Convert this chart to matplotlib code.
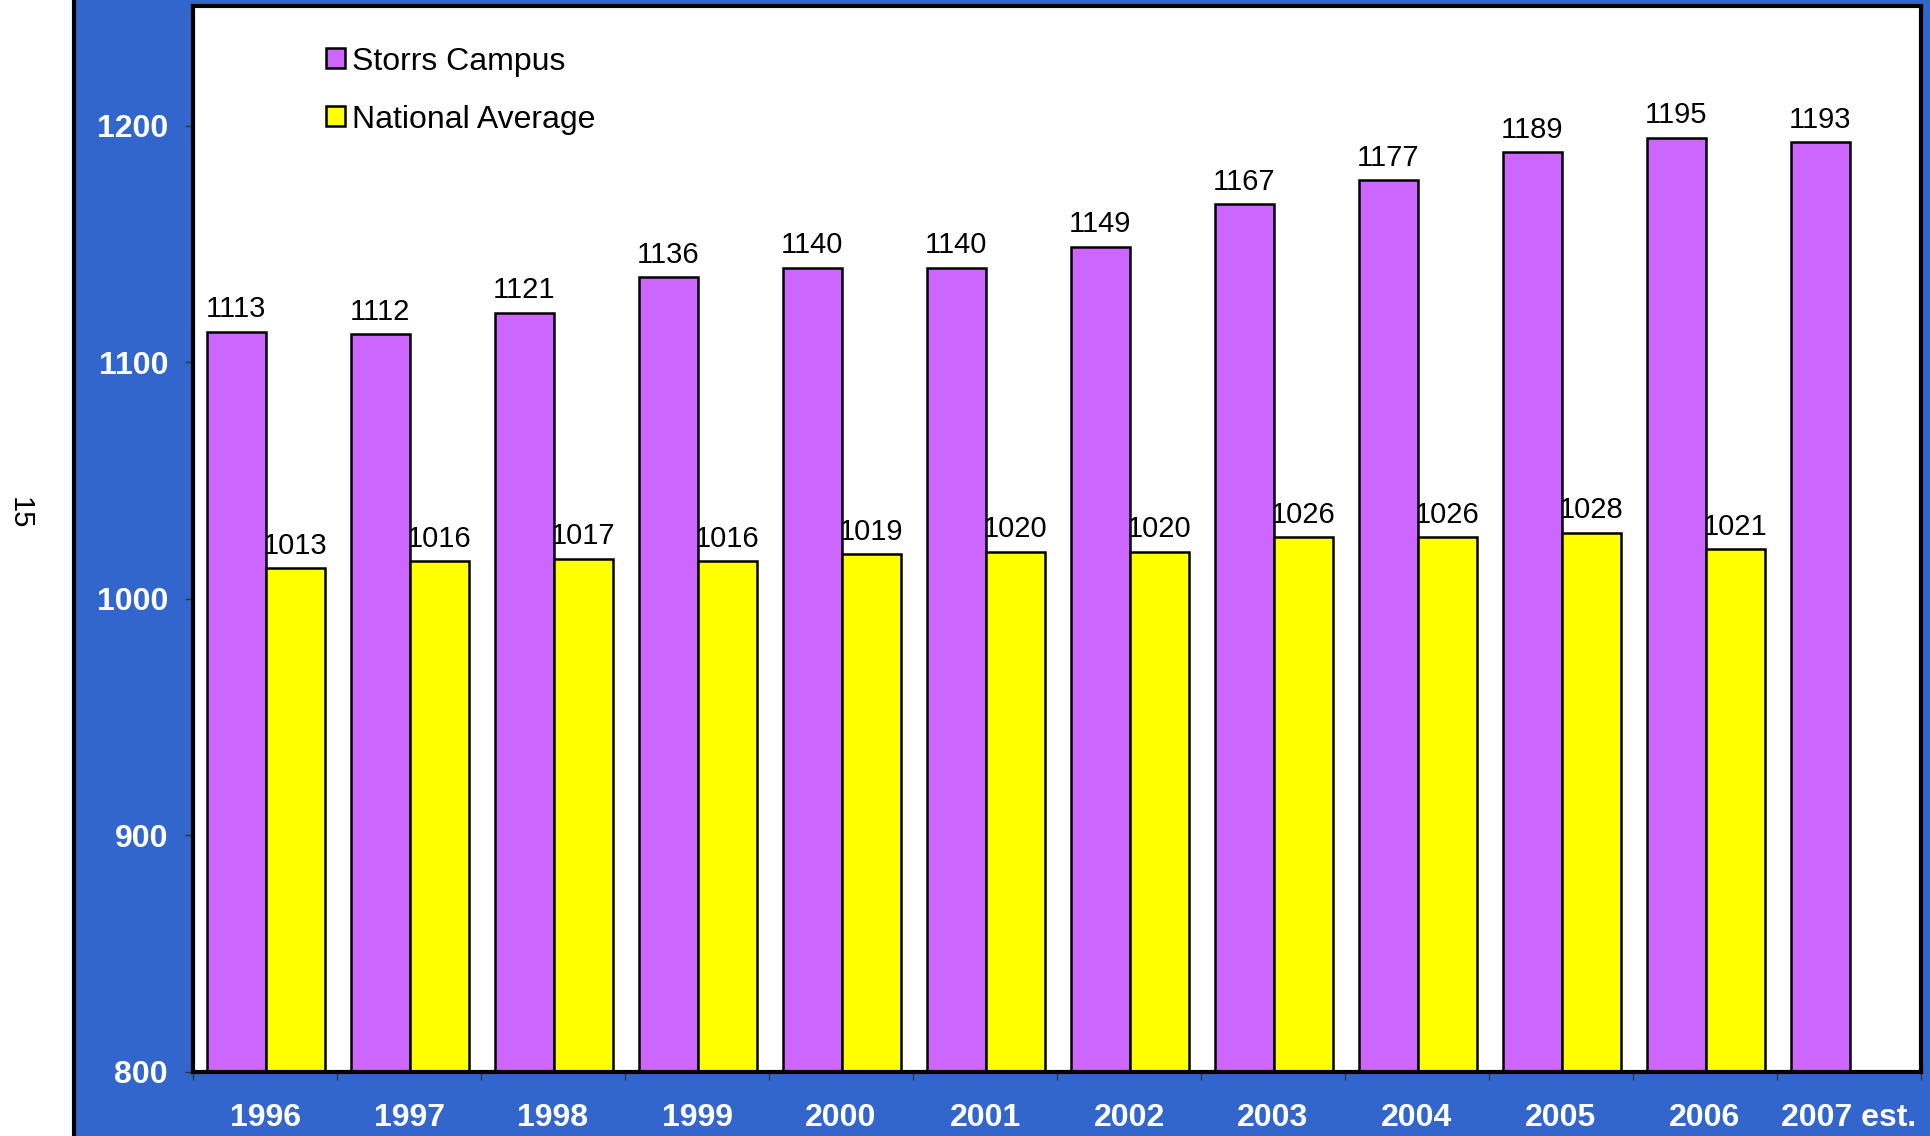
import numpy as np
import matplotlib
matplotlib.use("Agg")
import matplotlib.pyplot as plt
from matplotlib.patches import Rectangle
from matplotlib.lines import Line2D

plt.rcParams['font.family'] = ['Liberation Sans', 'DejaVu Sans']

years = ['1996', '1997', '1998', '1999', '2000', '2001', '2002', '2003',
         '2004', '2005', '2006', '2007 est.']
storrs = [1113, 1112, 1121, 1136, 1140, 1140, 1149, 1167, 1177, 1189, 1195, 1193]
national = [1013, 1016, 1017, 1016, 1019, 1020, 1020, 1026, 1026, 1028, 1021]

purple = '#CC66FF'
yellow = '#FFFF00'
blue = '#3366CC'

fig = plt.figure(figsize=(19.31, 11.36), dpi=100)
fig.patch.set_facecolor('white')

# blue panel and black left rule
fig.patches.append(Rectangle((0.0383, 0), 1 - 0.0383, 1, transform=fig.transFigure,
                             facecolor=blue, edgecolor='none', zorder=-5))
fig.lines.append(Line2D([0.0383, 0.0383], [0, 1], transform=fig.transFigure,
                        color='black', linewidth=3, zorder=-4))
fig.text(0.0104, 1 - 513 / 1136, '15', rotation=-90, fontsize=21,
         ha='center', va='center', color='black')

ax = fig.add_axes([0.09995, 0.05634, 0.99482 - 0.09995, 0.99472 - 0.05634])
ax.set_facecolor('white')

x = np.arange(len(years))
w = 0.41
ax.bar(x - 0.2, np.array(storrs) - 800, w, bottom=800, color=purple,
       edgecolor='black', linewidth=1.8, label='Storrs Campus', zorder=2)
xn = np.arange(len(national))
ax.bar(xn + 0.21, np.array(national) - 800, w, bottom=800, color=yellow,
       edgecolor='black', linewidth=1.8, label='National Average', zorder=2)

for xi, v in zip(x - 0.2, storrs):
    ax.annotate(str(v), (xi, v), xytext=(0, 6), textcoords='offset points',
                ha='center', va='bottom', fontsize=21, color='black')
for xi, v in zip(xn + 0.21, national):
    ax.annotate(str(v), (xi, v), xytext=(0, 6), textcoords='offset points',
                ha='center', va='bottom', fontsize=21, color='black')

ax.set_xlim(-0.5, len(years) - 0.5)
ax.set_ylim(800, 1250.7)
ax.set_yticks([800, 900, 1000, 1100, 1200])
ax.tick_params(axis='y', direction='out', length=6, width=1, color='#333333',
               labelsize=23, labelcolor='white', pad=12)
for t in ax.get_yticklabels():
    t.set_fontweight('bold')

ax.set_xticks(x)
ax.set_xticklabels(years, fontsize=23, fontweight='bold', color='white')
ax.tick_params(axis='x', which='major', length=0, pad=22)
ax.set_xticks(np.arange(len(years) + 1) - 0.5, minor=True)
ax.tick_params(axis='x', which='minor', direction='out', length=6, width=1,
               color='#333333')

for s in ax.spines.values():
    s.set_linewidth(3)
    s.set_color('black')

ax.legend(loc='upper left', bbox_to_anchor=(0.077, 0.962), frameon=False,
          fontsize=23, handlelength=0.6, handleheight=0.6, handletextpad=0.2,
          labelspacing=0.88, borderpad=0, borderaxespad=0)

fig.savefig('out.png', dpi=100, facecolor=fig.get_facecolor())
